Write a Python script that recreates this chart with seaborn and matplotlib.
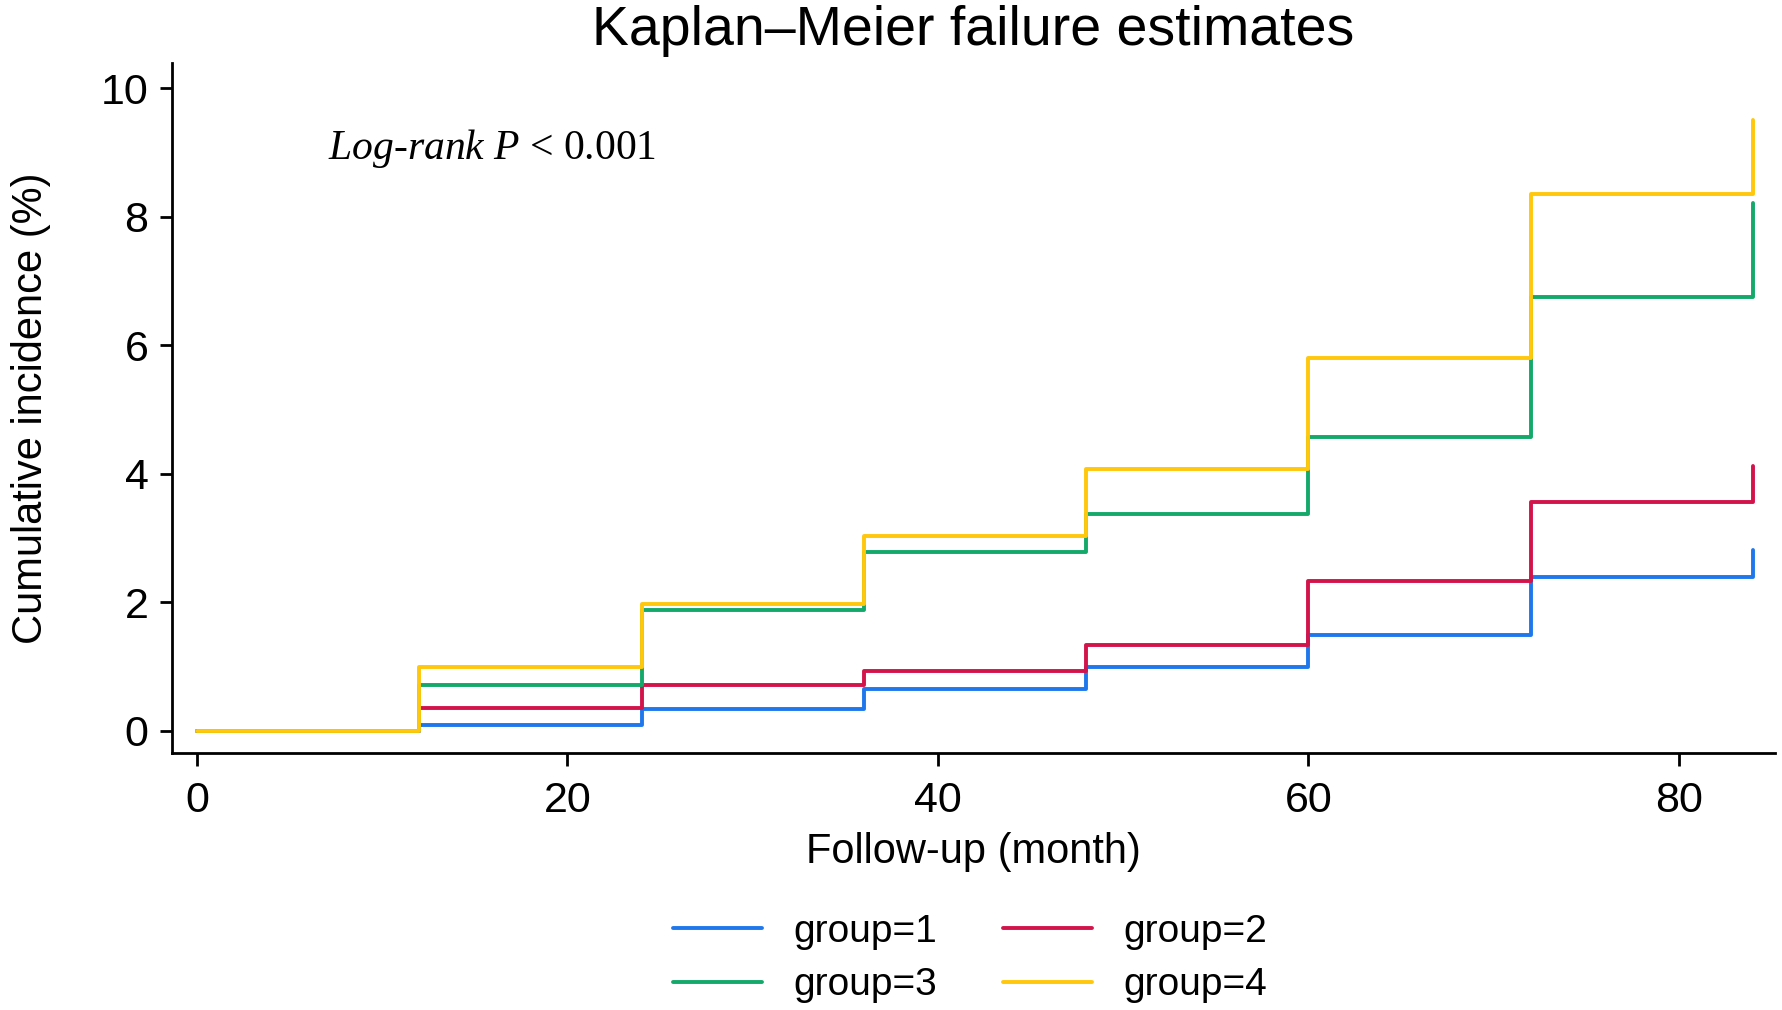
import pandas as pd
import matplotlib
matplotlib.use('Agg')
import matplotlib.pyplot as plt
import seaborn as sns

# Kaplan-Meier cumulative incidence (%)
months = [0, 12, 24, 36, 48, 60, 72, 84]
group1 = [0.0, 0.09, 0.34, 0.65, 1.00, 1.50, 2.39, 2.82]
group2 = [0.0, 0.35, 0.71, 0.94, 1.33, 2.34, 3.56, 4.12]
group3 = [0.0, 0.71, 1.89, 2.78, 3.38, 4.57, 6.75, 8.22]
group4 = [0.0, 1.00, 1.98, 3.03, 4.07, 5.80, 8.35, 9.51]

group_names = ['group=1', 'group=2', 'group=3', 'group=4']
colors = ['#1E78EC', '#D2144B', '#14A96A', '#FFC80A']

x_ticks = [0, 20, 40, 60, 80]
y_ticks = [0, 2, 4, 6, 8, 10]

# long format table for seaborn
rows = []
for name, vals in zip(group_names, [group1, group2, group3, group4]):
    for m, v in zip(months, vals):
        rows.append({'month': m, 'incidence': v, 'group': name})
df = pd.DataFrame(rows)

sns.set_style('white')
plt.rcParams['font.family'] = ['Liberation Sans', 'DejaVu Sans']
plt.rcParams['text.color'] = 'black'
plt.rcParams['axes.labelcolor'] = 'black'
plt.rcParams['xtick.color'] = 'black'
plt.rcParams['ytick.color'] = 'black'
plt.rcParams['mathtext.fontset'] = 'custom'
plt.rcParams['mathtext.it'] = 'Liberation Serif:italic'
plt.rcParams['mathtext.rm'] = 'Liberation Serif'

fig = plt.figure(figsize=(17.83, 10.10), dpi=100)
ax = fig.add_axes([0.0965, 0.254, 0.899, 0.684])

sns.lineplot(data=df, x='month', y='incidence', hue='group',
             palette=dict(zip(group_names, colors)), estimator=None,
             sort=False, drawstyle='steps-post', linewidth=2.8, ax=ax)

ax.set_xlim(-1.35, 85.2)
ax.set_ylim(-0.35, 10.4)
ax.set_xticks(x_ticks)
ax.set_yticks(y_ticks)
ax.tick_params(axis='both', direction='out', length=9, width=2,
               labelsize=31, left=True, bottom=True, pad=8)
ax.tick_params(axis='x', pad=11)
for side in ['top', 'right']:
    ax.spines[side].set_visible(False)
for side in ['left', 'bottom']:
    ax.spines[side].set_linewidth(2)
    ax.spines[side].set_color('black')

ax.set_xlabel('Follow-up (month)', fontsize=30, labelpad=8)
ax.set_ylabel('Cumulative incidence (%)', fontsize=30, labelpad=36)
fig.suptitle('Kaplan\u2013Meier failure estimates', fontsize=40,
             x=0.546, y=0.995, va='top')

ax.text(0.097, 0.876, r'$\mathit{Log}$-$\mathit{rank\ P}$ < 0.001',
        transform=ax.transAxes, fontsize=30,
        family=['Liberation Serif', 'DejaVu Serif'], va='center')

# reference fills the legend row by row
handles, labels = ax.get_legend_handles_labels()
order = [0, 2, 1, 3]
ax.legend([handles[i] for i in order], [labels[i] for i in order], ncol=2,
          loc='center', bbox_to_anchor=(0.544, 0.051),
          bbox_transform=fig.transFigure, frameon=False, fontsize=28,
          handlelength=2.3, columnspacing=1.7, handletextpad=0.8,
          labelspacing=0.45)

fig.savefig('out.png', dpi=100)
